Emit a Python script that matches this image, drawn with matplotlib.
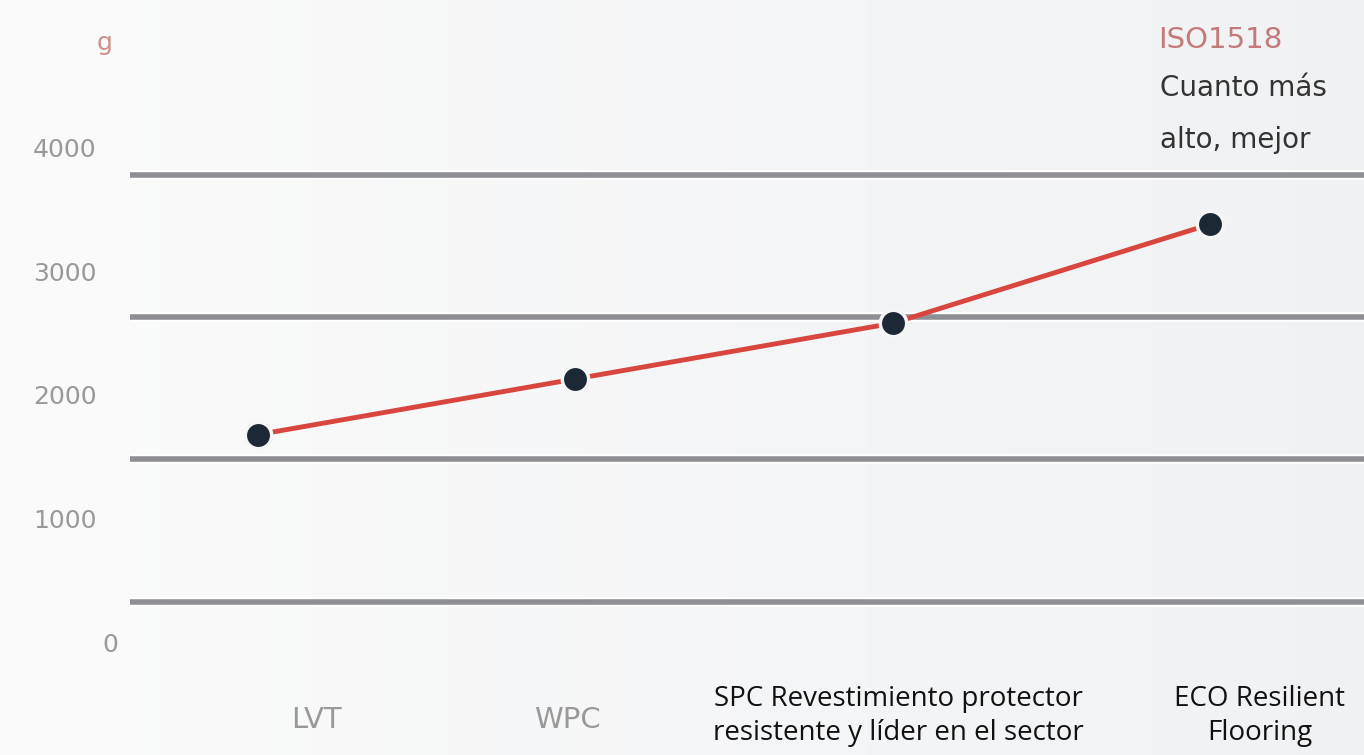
import matplotlib.pyplot as plt
import matplotlib.transforms as mtransforms
import numpy as np

# ISO1518 scratch resistance (g)
categories = ["LVT", "WPC",
              "SPC Revestimiento protector\nresistente y líder en el sector",
              "ECO Resilient\nFlooring"]
values = [1700, 2150, 2600, 3400]
y_ticks = [0, 1000, 2000, 3000, 4000]
grid_values = [350, 1500, 2650, 3800]

fig = plt.figure(figsize=(13.64, 7.55), dpi=100)
ax = fig.add_axes([0, 0, 1, 1])
ax.set_xlim(-0.813, 3.485)
ax.set_ylim(-889, 5212)
ax.axis("off")

# soft background with a faint gradient to the right
grad = np.linspace(0, 1, 256).reshape(1, -1)
bg = np.ones((1, 256, 3))
left_c = np.array([0.985, 0.985, 0.985])
right_c = np.array([0.940, 0.947, 0.955])
bg[0] = left_c + (right_c - left_c) * grad.T
ax.imshow(bg, extent=[-0.813, 3.485, -889, 5212], aspect="auto", zorder=0)

# horizontal rules
for g in grid_values:
    ax.plot([-0.403, 3.485], [g, g], color="white", lw=7, solid_capstyle="butt", zorder=1)
    ax.plot([-0.403, 3.485], [g, g], color="#8e8e95", lw=4, solid_capstyle="butt", zorder=2)

x = np.arange(len(categories))
ax.plot(x, values, color="#d9463f", lw=3.5, zorder=3)
ax.plot(x, values, "o", color="#1d2837", markersize=19, markeredgecolor="#f6f6f6",
        markeredgewidth=2.5, zorder=4)

# y labels
ytrans = mtransforms.blended_transform_factory(fig.transFigure, ax.transData)
for t in y_ticks:
    xpos = 0.087 if t == 0 else 0.071
    ax.text(xpos, t, str(t), transform=ytrans, ha="right", va="center",
            fontsize=18, color="#999999")
fig.text(0.077, 0.943, "g", ha="center", va="center", fontsize=18, color="#cf8f8f")

# x labels
label_x = [316, 567, 898, 1260]
for i, lab in enumerate(categories):
    if i < 2:
        fig.text(label_x[i] / 1364, 1 - 720 / 755, lab, ha="center", va="center",
                 fontsize=21, color="#999999")
    else:
        fig.text(label_x[i] / 1364, 1 - 716 / 755, lab, ha="center", va="center",
                 fontsize=20, color="#111111", family="Open Sans", linespacing=1.3)

# note top right
fig.text(1158 / 1364, 1 - 40 / 755, "ISO1518", ha="left", va="center",
         fontsize=21, color="#c47a7a")
fig.text(1160 / 1364, 1 - 88 / 755, "Cuanto más", ha="left", va="center",
         fontsize=20, color="#333333")
fig.text(1160 / 1364, 1 - 140 / 755, "alto, mejor", ha="left", va="center",
         fontsize=20, color="#333333")

fig.savefig("out.png", dpi=100)
